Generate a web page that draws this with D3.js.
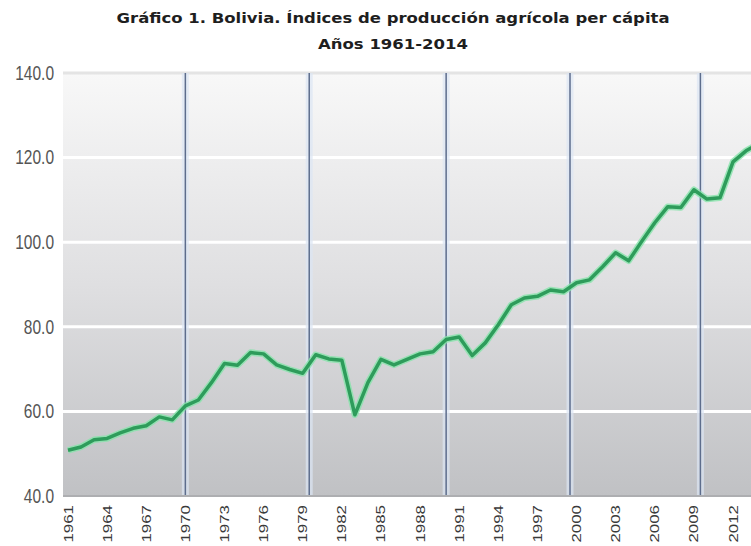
<!DOCTYPE html>
<html>
<head>
<meta charset="utf-8">
<script src="https://cdn.jsdelivr.net/npm/d3@7"></script>
<style>
  body { margin: 0; background: #fff; }
  svg { display: block; }
</style>
</head>
<body>
<div class="chart"></div>
<script>
const TITLE = 'Gráfico 1. Bolivia. Índices de producción agrícola per cápita'
const SUBTITLE = 'Años 1961-2014'

const years = [1961, 1962, 1963, 1964, 1965, 1966, 1967, 1968, 1969, 1970,
  1971, 1972, 1973, 1974, 1975, 1976, 1977, 1978, 1979, 1980,
  1981, 1982, 1983, 1984, 1985, 1986, 1987, 1988, 1989, 1990,
  1991, 1992, 1993, 1994, 1995, 1996, 1997, 1998, 1999, 2000,
  2001, 2002, 2003, 2004, 2005, 2006, 2007, 2008, 2009, 2010,
  2011, 2012, 2013, 2014]
const values = [50.8, 51.6, 53.3, 53.6, 54.9, 56.0, 56.6, 58.7, 58.0, 61.3,
  62.7, 66.8, 71.3, 70.9, 73.9, 73.6, 71.0, 69.9, 69.0, 73.4,
  72.4, 72.1, 59.2, 66.8, 72.3, 71.0, 72.3, 73.6, 74.1, 77.0,
  77.6, 73.2, 76.2, 80.5, 85.2, 86.8, 87.2, 88.7, 88.3, 90.4,
  91.1, 94.2, 97.5, 95.6, 100.2, 104.6, 108.4, 108.2, 112.4, 110.2,
  110.5, 119.0, 121.6, 123.4]
const yTicks = [40, 60, 80, 100, 120, 140]
const xTicks = [1961, 1964, 1967, 1970, 1973, 1976, 1979, 1982, 1985, 1988,
  1991, 1994, 1997, 2000, 2003, 2006, 2009, 2012]
// vertical reference lines
const markerYears = [1970, 1979.5, 1990, 1999.5, 2009.5]

const W = 751
const H = 546
const plot = {left: 63, right: 751, top: 73, bottom: 496}

const x = d3.scaleLinear().domain([1961, 2012]).range([68, 733])
const y = d3.scaleLinear().domain([40, 140]).range([plot.bottom, plot.top])

const svg = d3.select('.chart').append('svg')
  .attr('width', W)
  .attr('height', H)
  .attr('viewBox', `0 0 ${W} ${H}`)

const defs = svg.append('defs')
const grad = defs.append('linearGradient')
  .attr('id', 'bg')
  .attr('x1', 0).attr('y1', 0).attr('x2', 0).attr('y2', 1)
grad.append('stop').attr('offset', '0%').attr('stop-color', '#f8f8f8')
grad.append('stop').attr('offset', '50%').attr('stop-color', '#dfdfe1')
grad.append('stop').attr('offset', '100%').attr('stop-color', '#c0c1c4')

// title
const titleFont = 'bold 14.5px "DejaVu Sans", "Liberation Sans", sans-serif'
svg.append('text')
  .attr('x', 393).attr('y', 23)
  .attr('text-anchor', 'middle')
  .attr('textLength', 553)
  .attr('lengthAdjust', 'spacingAndGlyphs')
  .style('font', titleFont)
  .style('fill', '#1e1e1e')
  .text(TITLE)

svg.append('text')
  .attr('x', 393).attr('y', 49)
  .attr('text-anchor', 'middle')
  .attr('textLength', 150)
  .attr('lengthAdjust', 'spacingAndGlyphs')
  .style('font', titleFont)
  .style('fill', '#1e1e1e')
  .text(SUBTITLE)

// plot background
svg.append('rect')
  .attr('x', plot.left).attr('y', plot.top)
  .attr('width', plot.right - plot.left)
  .attr('height', plot.bottom - plot.top)
  .attr('fill', 'url(#bg)')

// horizontal grid
svg.append('g').selectAll('line')
  .data(yTicks.filter(d => d > 40 && d < 140))
  .join('line')
  .attr('x1', plot.left).attr('x2', plot.right)
  .attr('y1', d => y(d)).attr('y2', d => y(d))
  .attr('stroke', '#fff')
  .attr('stroke-width', 3)

svg.append('line')
  .attr('x1', plot.left).attr('x2', plot.right)
  .attr('y1', y(140)).attr('y2', y(140))
  .attr('stroke', '#e4e4e4')
  .attr('stroke-width', 3)

// vertical markers
const markers = svg.append('g')
markers.selectAll('line.halo')
  .data(markerYears)
  .join('line')
  .attr('class', 'halo')
  .attr('x1', d => x(d)).attr('x2', d => x(d))
  .attr('y1', plot.top).attr('y2', plot.bottom)
  .attr('stroke', '#dbe6f4')
  .attr('stroke-opacity', 0.7)
  .attr('stroke-width', 7)
markers.selectAll('line.mark')
  .data(markerYears)
  .join('line')
  .attr('class', 'mark')
  .attr('x1', d => x(d)).attr('x2', d => x(d))
  .attr('y1', plot.top).attr('y2', plot.bottom)
  .attr('stroke', '#5d6d8c')
  .attr('stroke-width', 1.5)

// series
const data = years.map((yr, i) => ({year: yr, value: values[i]}))
const line = d3.line()
  .x(d => x(d.year))
  .y(d => y(d.value))

svg.append('path')
  .datum(data)
  .attr('d', line)
  .attr('fill', 'none')
  .attr('stroke', '#86e3aa')
  .attr('stroke-width', 6.5)
  .attr('stroke-linejoin', 'round')
  .attr('stroke-opacity', 0.8)

svg.append('path')
  .datum(data)
  .attr('d', line)
  .attr('fill', 'none')
  .attr('stroke', '#2e9c5b')
  .attr('stroke-width', 3.5)
  .attr('stroke-linejoin', 'round')

// baseline
svg.append('line')
  .attr('x1', plot.left).attr('x2', plot.right)
  .attr('y1', plot.bottom).attr('y2', plot.bottom)
  .attr('stroke', '#adaeb1')
  .attr('stroke-width', 2)

// y labels
svg.append('g').selectAll('text')
  .data(yTicks)
  .join('text')
  .attr('transform', d => `translate(54, ${y(d)}) scale(1, 1.25)`)
  .attr('text-anchor', 'end')
  .attr('dy', '0.35em')
  .style('font', '15.5px "Liberation Sans", Arial, sans-serif')
  .style('fill', '#555')
  .text(d => d3.format('.1f')(d))

// x labels
svg.append('g').selectAll('text')
  .data(xTicks)
  .join('text')
  .attr('transform', d => `translate(${x(d)}, 505) rotate(-90) scale(1.3, 1)`)
  .attr('text-anchor', 'end')
  .attr('dy', '0.35em')
  .style('font', '13px "Liberation Sans", Arial, sans-serif')
  .style('fill', '#3a3a3a')
  .text(d => d)
</script>
</body>
</html>
